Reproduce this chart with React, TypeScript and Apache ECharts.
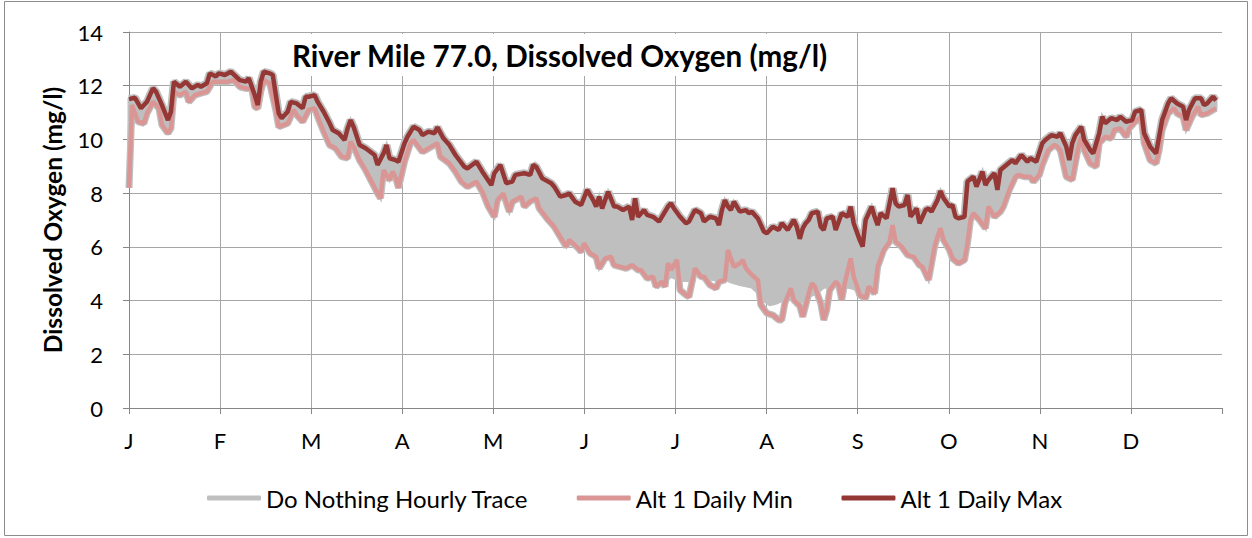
import React, { useEffect, useRef } from "react";
import * as echarts from "echarts";

// ---- Data (day of year, mg/l) ----
const MONTH_LABELS = ["J", "F", "M", "A", "M", "J", "J", "A", "S", "O", "N", "D"];
const Y_MIN = 0;
const Y_MAX = 14;
const Y_STEP = 2;
const DAYS_IN_YEAR = 365;

const altMax: [number, number][] = [
  [0, 11.5], [2, 11.55], [4, 11.16], [5, 11.28], [6, 11.4], [8, 11.9], [9, 11.78], [11, 11.28], [13, 10.72], [14, 11.03],
  [15, 12.15], [17, 11.96], [19, 12.15], [21, 11.9], [23, 12.03], [24, 11.96], [26, 12.09], [27, 12.46], [29, 12.34], [30, 12.46],
  [32, 12.4], [34, 12.52], [37, 12.21], [39, 12.15], [40, 12.28], [42, 11.65], [43, 11.28], [44, 12.15], [45, 12.52], [47, 12.46],
  [48, 12.4], [50, 10.97], [51, 10.79], [53, 11.03], [54, 11.4], [56, 11.34], [58, 11.16], [59, 11.59], [60, 11.59], [62, 11.65],
  [63, 11.4], [65, 11.03], [67, 10.6], [68, 10.35], [70, 10.23], [72, 9.98], [73, 10.41], [74, 10.72], [75, 10.47], [77, 9.79],
  [79, 9.67], [82, 9.42], [83, 9.05], [85, 9.48], [86, 9.79], [87, 9.3], [89, 9.23], [90, 9.17], [92, 9.86], [93, 10.1],
  [95, 10.47], [97, 10.35], [98, 10.16], [100, 10.29], [102, 10.23], [103, 10.45], [105, 10.04], [107, 9.79], [109, 9.42], [112, 8.98],
  [113, 8.92], [116, 9.17], [118, 8.8], [121, 8.3], [122, 8.74], [124, 9.05], [126, 8.37], [128, 8.43], [129, 8.68], [132, 8.74],
  [134, 8.68], [135, 9.05], [136, 8.98], [138, 8.55], [141, 8.37], [142, 8.24], [144, 7.87], [146, 7.93], [147, 7.99], [149, 7.68],
  [151, 7.56], [153, 8.12], [155, 7.74], [156, 7.5], [157, 7.87], [158, 7.43], [160, 8.05], [162, 7.5], [163, 7.5], [165, 7.37],
  [167, 7.5], [168, 7.0], [169, 7.81], [170, 7.12], [172, 7.37], [173, 7.19], [175, 7.12], [177, 6.94], [180, 7.5], [181, 7.62],
  [182, 7.43], [184, 7.12], [186, 6.88], [187, 6.94], [189, 7.37], [191, 7.25], [192, 6.94], [194, 7.12], [196, 7.06], [197, 6.81],
  [198, 7.37], [199, 7.74], [200, 7.5], [201, 7.37], [202, 7.68], [204, 7.31], [206, 7.37], [207, 7.25], [208, 7.31], [210, 7.06],
  [212, 6.57], [213, 6.51], [215, 6.75], [217, 6.63], [218, 6.88], [220, 6.63], [222, 7.0], [223, 6.75], [224, 6.3], [225, 6.69],
  [226, 6.88], [227, 7.0], [228, 7.25], [230, 7.31], [231, 6.75], [232, 6.63], [233, 7.06], [235, 7.12], [236, 6.63], [238, 7.25],
  [240, 7.12], [241, 7.5], [242, 6.88], [244, 6.26], [245, 6.01], [246, 7.0], [248, 7.5], [249, 7.12], [250, 6.81], [251, 7.25],
  [253, 7.06], [255, 8.18], [256, 7.62], [257, 7.5], [259, 7.56], [260, 7.93], [261, 7.12], [263, 7.43], [264, 6.88], [266, 7.37],
  [267, 7.43], [268, 7.31], [270, 7.74], [271, 8.08], [272, 7.81], [274, 7.5], [275, 7.56], [276, 7.12], [277, 7.06], [279, 7.12],
  [280, 8.43], [282, 8.61], [283, 8.24], [285, 8.8], [286, 8.3], [287, 8.49], [289, 8.74], [290, 8.12], [291, 8.86], [293, 9.05],
  [295, 9.23], [296, 9.11], [298, 9.42], [300, 9.17], [301, 9.3], [303, 9.17], [305, 9.86], [306, 9.98], [308, 10.16], [310, 10.1],
  [311, 10.23], [313, 9.73], [314, 9.23], [315, 9.86], [316, 10.15], [318, 10.47], [319, 9.98], [321, 9.6], [322, 9.48], [324, 10.23],
  [325, 10.85], [326, 10.6], [328, 10.79], [330, 10.72], [331, 10.85], [333, 10.66], [335, 10.72], [336, 11.03], [338, 11.1], [339, 10.23],
  [341, 9.73], [343, 9.48], [344, 10.1], [345, 10.72], [347, 11.34], [348, 11.53], [350, 11.34], [352, 11.22], [353, 10.72], [354, 11.1],
  [356, 11.53], [358, 11.53], [359, 11.28], [360, 11.34], [362, 11.59], [363, 11.45],
];

const altMin: [number, number][] = [
  [0, 8.2], [1, 11.28], [3, 10.66], [5, 10.6], [6, 10.97], [8, 11.4], [10, 11.16], [11, 10.54], [13, 10.23], [14, 10.41],
  [15, 11.78], [17, 11.65], [19, 11.78], [20, 11.4], [22, 11.65], [24, 11.72], [26, 11.78], [28, 12.15], [30, 12.15], [33, 12.15],
  [35, 12.21], [37, 11.96], [39, 11.9], [41, 11.9], [42, 11.22], [43, 11.16], [44, 11.78], [45, 12.21], [47, 12.09], [49, 11.1],
  [50, 10.47], [53, 10.6], [55, 11.1], [56, 10.91], [58, 10.66], [60, 11.1], [62, 11.16], [63, 10.85], [65, 10.29], [67, 9.79],
  [69, 9.67], [71, 9.36], [73, 9.3], [74, 9.92], [75, 9.73], [77, 9.23], [79, 8.86], [81, 8.43], [83, 7.99], [84, 7.81],
  [85, 8.86], [87, 8.49], [88, 8.8], [89, 8.6], [90, 8.2], [92, 9.17], [94, 9.86], [95, 9.98], [98, 9.54], [99, 9.6],
  [101, 9.73], [103, 9.86], [104, 9.36], [107, 9.11], [109, 8.8], [111, 8.43], [113, 8.24], [116, 8.43], [118, 8.05], [120, 7.5],
  [122, 7.12], [123, 7.74], [125, 7.99], [127, 7.31], [128, 7.68], [131, 7.87], [132, 7.5], [134, 7.7], [136, 7.81], [137, 7.43],
  [140, 7.0], [142, 6.75], [144, 6.38], [146, 6.01], [147, 6.26], [150, 5.95], [151, 5.82], [152, 6.13], [154, 5.76], [156, 5.63],
  [157, 5.2], [159, 5.57], [161, 5.63], [162, 5.32], [164, 5.26], [166, 5.2], [168, 5.32], [170, 5.14], [171, 5.14], [173, 4.83],
  [175, 4.89], [176, 4.52], [178, 4.7], [179, 4.52], [180, 5.39], [181, 5.14], [183, 5.51], [184, 4.39], [186, 4.21], [187, 4.14],
  [189, 5.2], [191, 4.89], [192, 4.89], [194, 4.58], [196, 4.46], [197, 4.7], [199, 4.77], [200, 5.88], [202, 5.26], [204, 5.39],
  [205, 5.51], [206, 5.2], [208, 4.95], [210, 4.77], [211, 3.84], [213, 3.53], [215, 3.46], [217, 3.28], [218, 3.28], [219, 3.9],
  [221, 4.46], [222, 4.02], [224, 3.8], [225, 3.4], [227, 4.27], [228, 4.64], [229, 4.52], [231, 3.9], [232, 3.28], [233, 3.65],
  [234, 4.39], [236, 4.7], [237, 4.58], [238, 4.02], [239, 4.64], [241, 5.57], [242, 4.89], [243, 4.58], [244, 4.21], [246, 4.08],
  [247, 4.52], [249, 4.27], [250, 5.26], [252, 5.88], [254, 6.19], [255, 6.81], [256, 6.19], [258, 6.01], [260, 5.7], [262, 5.63],
  [264, 5.32], [265, 5.26], [267, 4.77], [269, 6.0], [270, 6.38], [271, 6.69], [272, 6.26], [274, 5.88], [275, 5.57], [277, 5.39],
  [279, 5.51], [280, 6.13], [281, 7.0], [282, 7.25], [284, 7.0], [286, 6.69], [287, 7.5], [289, 7.12], [291, 7.31], [292, 7.5],
  [294, 8.12], [296, 8.61], [297, 8.68], [299, 8.61], [301, 8.61], [302, 8.43], [304, 8.68], [305, 9.05], [307, 9.6], [309, 9.79],
  [310, 9.73], [311, 9.6], [312, 9.11], [313, 8.61], [315, 8.5], [317, 9.7], [318, 10.1], [319, 9.6], [321, 9.11], [323, 8.99],
  [324, 9.86], [326, 10.1], [328, 10.04], [329, 10.35], [331, 10.41], [333, 10.1], [334, 10.41], [336, 10.66], [338, 10.85], [339, 9.86],
  [341, 9.23], [343, 9.11], [344, 9.6], [345, 10.35], [347, 10.97], [349, 11.16], [350, 10.97], [352, 10.85], [353, 10.35], [355, 10.85],
  [357, 11.22], [358, 10.91], [360, 10.97], [362, 11.1], [363, 11.16],
];

// Lower envelope of the hourly trace where it separates from the daily minimum (summer)
const hourlyLowSummer: [number, number][] = [
  [177, 4.6], [179, 4.7], [181, 4.9], [183, 4.8], [185, 4.75], [187, 4.75], [189, 5.0], [191, 4.85], [194, 4.8], [197, 4.75],
  [199, 4.8], [201, 4.7], [204, 4.6], [206, 4.55], [208, 4.5], [210, 4.3], [212, 4.0], [214, 3.85], [216, 3.9], [218, 4.0],
  [220, 4.1], [222, 4.0], [224, 3.9], [226, 4.1], [228, 4.2], [230, 4.3], [232, 4.5], [234, 4.5], [236, 4.6], [238, 4.4],
  [240, 4.5], [242, 4.45], [244, 4.3], [246, 4.2], [248, 4.35],
];

const SERIES_NAMES = ["Do Nothing Hourly Trace", "Alt 1 Daily Min", "Alt 1 Daily Max"];

const GRAY = "#bfbfbf";
const PINK = "#d99694";
const DARK = "#953735";
const GRID = "#a6a6a6";
const AXIS = "#868686";
const FONT = "Lato";

export default function App() {
  const ref = useRef<HTMLDivElement>(null);

  useEffect(() => {
    if (!ref.current) return;
    const chart = echarts.init(ref.current, undefined, { renderer: "svg" });
    const monthLen = DAYS_IN_YEAR / 12;

    const hourlyLow: [number, number][] = [
      ...altMin.filter((p) => p[0] <= 176),
      ...hourlyLowSummer,
      ...altMin.filter((p) => p[0] >= 249),
    ];

    const option: any = {
      animation: false,
      backgroundColor: "#ffffff",
      title: {
        text: "River Mile 77.0, Dissolved Oxygen (mg/l)",
        left: 284,
        top: 34,
        padding: [6, 8, 6, 8],
        backgroundColor: "#ffffff",
        textStyle: { fontFamily: FONT, fontSize: 29.6, fontWeight: "bold", color: "#000" },
      },
      legend: {
        left: 202,
        top: 481,
        itemWidth: 54,
        itemHeight: 5,
        itemGap: 48,
        textStyle: { fontFamily: FONT, fontSize: 24, color: "#000" },
        data: [
          { name: SERIES_NAMES[0], icon: "roundRect", itemStyle: { color: GRAY } },
          { name: SERIES_NAMES[1], icon: "roundRect", itemStyle: { color: PINK } },
          { name: SERIES_NAMES[2], icon: "roundRect", itemStyle: { color: DARK } },
        ],
      },
      graphic: [
        {
          type: "rect",
          shape: { x: 4.5, y: 1.5, width: 1243, height: 534 },
          style: { fill: "none", stroke: "#8c8c8c", lineWidth: 1 },
          silent: true,
        },
      ],
      grid: { left: 129, right: 30, top: 32, bottom: 130, containLabel: false },
      xAxis: {
        type: "value",
        min: 0,
        max: DAYS_IN_YEAR,
        interval: monthLen,
        axisLine: { show: true, lineStyle: { color: AXIS, width: 1 } },
        axisTick: { show: true, length: 6, lineStyle: { color: AXIS } },
        splitLine: { show: true, showMaxLine: false, lineStyle: { color: GRID, width: 1 } },
        axisLabel: {
          margin: 21,
          fontFamily: FONT,
          fontSize: 22,
          color: "#000",
          formatter: (v: number) => {
            const i = Math.round(v / monthLen);
            return i < 12 ? MONTH_LABELS[i] : "";
          },
        },
      },
      yAxis: {
        type: "value",
        min: Y_MIN,
        max: Y_MAX,
        interval: Y_STEP,
        name: "Dissolved Oxygen (mg/l)",
        nameLocation: "middle",
        nameGap: 64,
        nameTextStyle: { fontFamily: FONT, fontSize: 24.5, fontWeight: "bold", color: "#000" },
        axisLine: { show: true, lineStyle: { color: AXIS, width: 1 } },
        axisTick: { show: true, length: 6, lineStyle: { color: AXIS } },
        splitLine: { show: true, lineStyle: { color: GRID, width: 1 } },
        axisLabel: { margin: 26, fontFamily: FONT, fontSize: 22, color: "#000" },
      },
      series: [
        {
          name: SERIES_NAMES[0],
          type: "custom",
          itemStyle: { color: GRAY },
          data: [[0, 0]],
          z: 1,
          renderItem: (params: any, api: any) => {
            if (params.dataIndex !== 0) return null;
            const upper = altMax.map((p) => api.coord(p));
            const lower = hourlyLow
              .slice()
              .reverse()
              .map((p) => api.coord(p));
            return {
              type: "polygon",
              shape: { points: upper.concat(lower) },
              style: { fill: GRAY, stroke: GRAY, lineWidth: 3 },
            };
          },
        },
        {
          name: "hourly-edge-high",
          type: "line",
          data: altMax,
          showSymbol: false,
          symbol: "none",
          lineStyle: { color: GRAY, width: 8 },
          z: 2,
          silent: true,
        },
        {
          name: "hourly-edge-low",
          type: "line",
          data: altMin,
          showSymbol: false,
          symbol: "none",
          lineStyle: { color: GRAY, width: 7 },
          z: 2,
          silent: true,
        },
        {
          name: SERIES_NAMES[1],
          type: "line",
          data: altMin,
          showSymbol: false,
          symbol: "none",
          itemStyle: { color: PINK },
          lineStyle: { color: PINK, width: 4.5 },
          z: 3,
        },
        {
          name: SERIES_NAMES[2],
          type: "line",
          data: altMax,
          showSymbol: false,
          symbol: "none",
          itemStyle: { color: DARK },
          lineStyle: { color: DARK, width: 4.5 },
          z: 4,
        },
      ],
    };

    chart.setOption(option);
    return () => chart.dispose();
  }, []);

  return (
    <div
      ref={ref}
      style={{ position: "absolute", left: 0, top: 0, width: 1252, height: 538 }}
    />
  );
}
